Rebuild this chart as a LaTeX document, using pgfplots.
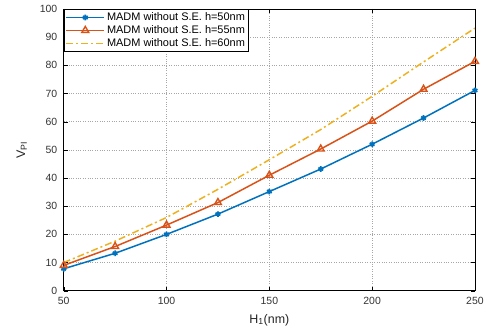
\documentclass[border=0pt]{standalone}
\usepackage{pgfplots}
\pgfplotsset{compat=1.18}
\usepackage{fontspec}
\setmainfont{Liberation Sans}
\definecolor{mblue}{rgb}{0,0.447,0.741}
\definecolor{morange}{rgb}{0.85,0.325,0.098}
\definecolor{myellow}{rgb}{0.929,0.694,0.125}
\begin{document}
\begin{tikzpicture}
\begin{axis}[
  scale only axis, width=413pt, height=283pt,
  xmin=50, xmax=250, ymin=0, ymax=100,
  xtick={50,100,...,250}, ytick={0,10,...,100},
  tick align=inside, tick pos=both,
  major tick length=4pt,
  grid=major, grid style={dotted, gray!70, line width=0.5pt},
  axis line style={black, line width=0.7pt},
  tick style={black},
  every tick label/.style={font=\fontsize{10.5}{12}\selectfont, text=black!80},
  yticklabel style={xshift=-3pt},
  xticklabel style={yshift=-2.5pt},
  /pgf/number format/assume math mode=true,
  xlabel={H\textsubscript{1}(nm)}, ylabel={V\textsubscript{PI}},
  label style={font=\fontsize{12.5}{14}\selectfont, text=black!85},
  xlabel style={yshift=-3pt},
  ylabel style={yshift=6pt},
  legend style={font=\fontsize{11}{12}\selectfont, draw=black, fill=white, line width=0.7pt, inner sep=1.5pt, row sep=-0.5pt, at={(0,1)}, anchor=north west},
  legend cell align=left,
  legend image code/.code={\draw[mark repeat=2,mark phase=2] plot coordinates {(0cm,0cm) (0.67cm,0cm) (1.34cm,0cm)};},
]
\addplot[color=mblue, line width=1.5pt, mark=asterisk, mark size=2.8pt, mark options={line width=1.7pt}] coordinates {
(50,7.8) (75,13.3) (100,20) (125,27.2) (150,35.2) (175,43.2) (200,52) (225,61.3) (250,71.1)};
\addlegendentry{MADM without S.E. h=50nm}
\addplot[color=morange, line width=1.5pt, mark=triangle, mark size=4pt, mark options={line width=1.4pt, solid}] coordinates {
(50,9) (75,15.7) (100,23.3) (125,31.3) (150,41) (175,50.3) (200,60.2) (225,71.5) (250,81.4)};
\addlegendentry{MADM without S.E. h=55nm}
\addplot[color=myellow, line width=1.5pt, dash pattern=on 7pt off 3pt on 2pt off 3pt] coordinates {
(50,10) (75,17.6) (100,26) (125,36) (150,46.5) (175,57.2) (200,69) (225,81.2) (250,93.2)};
\addlegendentry{MADM without S.E. h=60nm}
\path (rel axis cs:0,0) ++(-64pt,-41pt) coordinate (bbA);
\path (rel axis cs:1,1) ++(10pt,9pt) coordinate (bbB);
\end{axis}
\useasboundingbox (bbA) rectangle (bbB);
\end{tikzpicture}
\end{document}
